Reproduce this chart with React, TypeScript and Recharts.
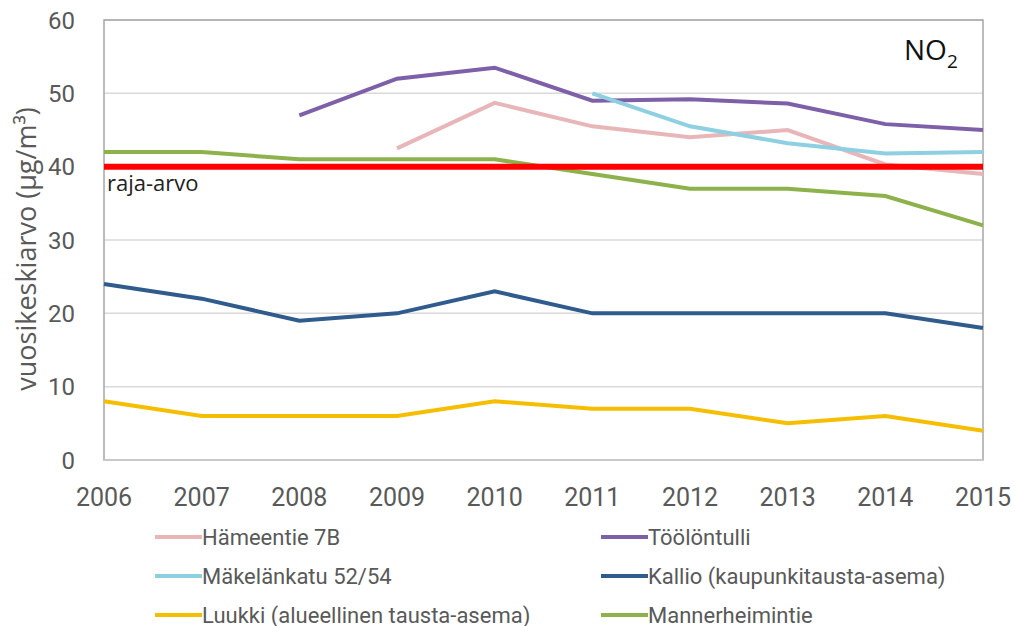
import React from 'react';
import { LineChart, Line, XAxis, YAxis, CartesianGrid, ReferenceLine, ReferenceArea } from 'recharts';

const years = ['2006', '2007', '2008', '2009', '2010', '2011', '2012', '2013', '2014', '2015'];
const hameentie = [null, null, null, 42.5, 48.7, 45.5, 44, 45, 40.3, 39];
const toolontulli = [null, null, 47, 52, 53.5, 49, 49.2, 48.6, 45.8, 45];
const makelankatu = [null, null, null, null, null, 50, 45.5, 43.2, 41.8, 42];
const kallio = [24, 22, 19, 20, 23, 20, 20, 20, 20, 18];
const luukki = [8, 6, 6, 6, 8, 7, 7, 5, 6, 4];
const mannerheimintie = [42, 42, 41, 41, 41, 39, 37, 37, 36, 32];
const yTicks = [0, 10, 20, 30, 40, 50, 60];
const rajaArvo = 40;

const series = [
  { key: 'hameentie', name: 'Hämeentie 7B', color: '#E8B5B9', values: hameentie },
  { key: 'toolontulli', name: 'Töölöntulli', color: '#7E60A9', values: toolontulli },
  { key: 'makelankatu', name: 'Mäkelänkatu 52/54', color: '#8ED0E2', values: makelankatu },
  { key: 'kallio', name: 'Kallio (kaupunkitausta-asema)', color: '#2F5B8D', values: kallio },
  { key: 'luukki', name: 'Luukki (alueellinen tausta-asema)', color: '#F6BE00', values: luukki },
  { key: 'mannerheimintie', name: 'Mannerheimintie', color: '#8DB24C', values: mannerheimintie },
];

const data = years.map((year, i) => {
  const row: { [k: string]: string | number | null } = { year };
  series.forEach((s) => {
    row[s.key] = s.values[i];
  });
  return row;
});

const TICK_FONT = "Roboto, sans-serif";
const TEXT_FONT = "'Open Sans', sans-serif";

export default function App() {
  return (
    <div style={{ position: 'absolute', left: 0, top: 0, width: 1015, height: 626, background: '#fff' }}>
      <LineChart width={1015} height={520} data={data} margin={{ top: 20, right: 32, left: 0, bottom: 10 }}>
        <CartesianGrid vertical={false} stroke="#d9d9d9" strokeWidth={1.5} />
        <XAxis
          dataKey="year"
          axisLine={{ stroke: '#d0d0d0', strokeWidth: 1.5 }}
          tickLine={false}
          tickSize={0}
          tickMargin={28}
          height={50}
          interval={0}
          tick={{ fill: '#595959', fontSize: 25, fontFamily: TICK_FONT }}
        />
        <YAxis
          domain={[0, 60]}
          ticks={yTicks}
          width={104}
          axisLine={false}
          tickLine={false}
          tickSize={0}
          tickMargin={29}
          tick={{ fill: '#595959', fontSize: 24, fontFamily: TICK_FONT }}
        />
        <ReferenceArea x1="2006" x2="2015" y1={0} y2={60} fill="none" stroke="#a6a6a6" strokeWidth={1.5} />
        {series.map((s) => (
          <Line
            key={s.key}
            dataKey={s.key}
            name={s.name}
            stroke={s.color}
            strokeWidth={4}
            dot={false}
            activeDot={false}
            isAnimationActive={false}
          />
        ))}
        <ReferenceLine y={rajaArvo} stroke="#FF0000" strokeWidth={6} />
      </LineChart>

      {/* y-axis title */}
      <div
        style={{
          position: 'absolute',
          left: 25,
          top: 249,
          transform: 'translate(-50%, -50%) rotate(-90deg)',
          whiteSpace: 'nowrap',
          fontSize: 27,
          color: '#595959',
          fontFamily: TEXT_FONT,
        }}
      >
        vuosikeskiarvo (µg/m³)
      </div>

      <div style={{ position: 'absolute', left: 107, top: 167, fontSize: 22, color: '#222', fontFamily: TEXT_FONT }}>
        raja-arvo
      </div>

      <div style={{ position: 'absolute', left: 904, top: 30, fontSize: 28, color: '#111', fontFamily: TEXT_FONT, lineHeight: '38px' }}>
        NO
        <span style={{ position: 'relative', top: 8, fontSize: 19 }}>2</span>
      </div>

      {series.map((s, i) => {
        const col = i % 2;
        const row = Math.floor(i / 2);
        return (
          <div
            key={s.key}
            style={{
              position: 'absolute',
              left: col === 0 ? 155 : 601,
              top: 537 + row * 39 - 15,
              height: 30,
              display: 'flex',
              alignItems: 'center',
              fontSize: 22,
              color: '#595959',
              fontFamily: TICK_FONT,
              whiteSpace: 'nowrap',
            }}
          >
            <span style={{ display: 'inline-block', width: 47, height: 4, background: s.color }} />
            <span>{s.name}</span>
          </div>
        );
      })}
    </div>
  );
}
